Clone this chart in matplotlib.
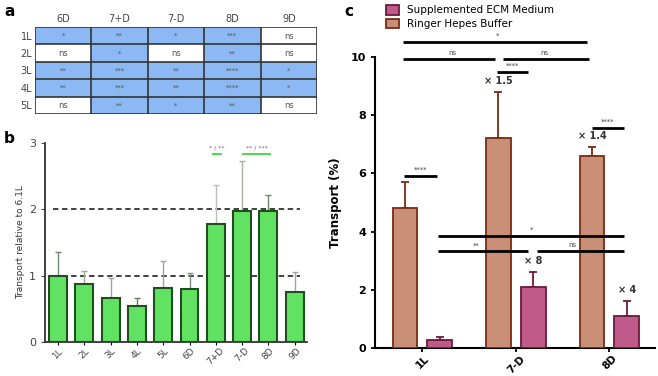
import matplotlib.pyplot as plt
import numpy as np
from matplotlib.colors import ListedColormap

# ---- data ----
# panel a: significance table
table_cols = ['6D', '7+D', '7-D', '8D', '9D']
table_rows = ['1L', '2L', '3L', '4L', '5L']
table_sig = [['*', '**', '*', '***', 'ns'],
             ['ns', '*', 'ns', '**', 'ns'],
             ['**', '***', '**', '****', '*'],
             ['**', '***', '**', '****', '*'],
             ['ns', '**', '*', '**', 'ns']]

# panel b: transport relative to 6.1L
b_labels = ['1L', '2L', '3L', '4L', '5L', '6D', '7+D', '7-D', '8D', '9D']
b_means = [1.00, 0.88, 0.66, 0.55, 0.81, 0.80, 1.78, 1.98, 1.98, 0.76]
b_upper = [1.36, 1.07, 0.97, 0.66, 1.22, 1.04, 2.36, 2.73, 2.22, 1.06]
b_err_colors = ['#6d8a6d', '#9aa89a', '#9aa89a', '#5f805f', '#9aa89a',
                '#7d8f7d', '#b5c2b5', '#a6b3a6', '#6d8a6d', '#9aa89a']

# panel c: transport (%)
c_groups = ['1L', '7-D', '8D']
ringer_mean = [4.8, 7.2, 6.6]
ringer_upper = [5.7, 8.8, 6.9]
ecm_mean = [0.27, 2.1, 1.1]
ecm_upper = [0.37, 2.6, 1.6]
ringer_fold = ['', '× 1.5', '× 1.4']
ecm_fold = ['', '× 8', '× 4']

fig = plt.figure(figsize=(6.58, 3.76), dpi=100)

# ---------------- panel a ----------------
ax_a = fig.add_axes([35/658, 1-114/376, 282/658, 87/376])
sig = np.array([[0 if s == 'ns' else 1 for s in row] for row in table_sig])
ax_a.imshow(sig, cmap=ListedColormap(['white', '#8cb8f4']), aspect='auto',
            extent=(0, 5, 5, 0), vmin=0, vmax=1)
for k in range(6):
    ax_a.axhline(k, color='#333333', lw=1.2)
    ax_a.axvline(k, color='#333333', lw=1.2)
for r, row in enumerate(table_sig):
    for c, s in enumerate(row):
        ax_a.text(c + 0.5, r + 0.52, s, ha='center', va='center',
                  fontsize=6 if s == 'ns' else 5, color='#555555')
ax_a.set_xlim(0, 5)
ax_a.set_ylim(5, 0)
ax_a.set_xticks(np.arange(5) + 0.5)
ax_a.set_xticklabels(table_cols, fontsize=7, color='#444444')
ax_a.xaxis.tick_top()
ax_a.set_yticks(np.arange(5) + 0.5)
ax_a.set_yticklabels(table_rows, fontsize=7, color='#444444')
ax_a.tick_params(length=0, pad=2)
for sp in ax_a.spines.values():
    sp.set_visible(False)

# ---------------- panel b ----------------
ax_b = fig.add_axes([45/658, 1-342/376, 262/658, 199/376])
xb = np.arange(len(b_labels))
ax_b.bar(xb, b_means, width=0.68, color='#62e262', edgecolor='#1f4f1f',
         linewidth=1.5, zorder=3)
for i in range(len(xb)):
    ax_b.errorbar(xb[i], b_means[i], yerr=[[0], [b_upper[i] - b_means[i]]],
                  color=b_err_colors[i], capsize=2, lw=1, capthick=1, zorder=2)
for lvl in [1, 2]:
    ax_b.hlines(lvl, -0.2, 9.2, colors='#333333', linestyles=(0, (3, 2)), lw=1.3, zorder=1)
for x0, x1, txt in [(5.86, 6.24, '* / **'), (7.0, 8.1, '** / ***')]:
    ax_b.hlines(2.83, x0, x1, colors='#55d855', lw=1.5)
    ax_b.text((x0 + x1) / 2, 2.88, txt, ha='center', va='bottom', fontsize=4.5, color='#666666')
ax_b.set_xlim(-0.5, 9.47)
ax_b.set_ylim(0, 3)
ax_b.set_yticks([0, 1, 2, 3])
ax_b.set_xticks(xb)
ax_b.set_xticklabels(b_labels, rotation=45, fontsize=6.5, color='#444444')
ax_b.tick_params(axis='y', labelsize=8, colors='#444444', length=3)
ax_b.tick_params(axis='x', length=2, pad=1)
ax_b.set_ylabel('Transport relative to 6.1L', fontsize=6.5, color='#333333', labelpad=3)
for sp in ['top', 'right']:
    ax_b.spines[sp].set_visible(False)
for sp in ['left', 'bottom']:
    ax_b.spines[sp].set_linewidth(1.3)
    ax_b.spines[sp].set_color('#333333')

# ---------------- panel c ----------------
ax_c = fig.add_axes([375/658, 1-348/376, 280/658, 291/376])
xc = np.arange(len(c_groups))
off = 0.187
w = 0.267
ax_c.bar(xc - off, ringer_mean, width=w, color='#c98e76', edgecolor='#7a2c14',
         linewidth=1.3, label='Ringer Hepes Buffer', zorder=3)
ax_c.bar(xc + off, ecm_mean, width=w, color='#bf5a89', edgecolor='#6b1a3c',
         linewidth=1.3, label='Supplemented ECM Medium', zorder=3)
ax_c.errorbar(xc - off, ringer_mean,
              yerr=[np.zeros(3), np.array(ringer_upper) - np.array(ringer_mean)],
              fmt='none', ecolor='#7a2c14', capsize=3, lw=1.3, capthick=1.3, zorder=2)
ax_c.errorbar(xc + off, ecm_mean,
              yerr=[np.zeros(3), np.array(ecm_upper) - np.array(ecm_mean)],
              fmt='none', ecolor='#6b1a3c', capsize=3, lw=1.3, capthick=1.3, zorder=2)
for i in range(3):
    if ringer_fold[i]:
        ax_c.text(xc[i] - off, ringer_upper[i] + 0.22, ringer_fold[i], ha='center',
                  va='bottom', fontsize=7, fontweight='bold', color='#333333')
    if ecm_fold[i]:
        ax_c.text(xc[i] + off, ecm_upper[i] + 0.22, ecm_fold[i], ha='center',
                  va='bottom', fontsize=7, fontweight='bold', color='#333333')

# significance brackets: (x0, x1, y, label, label x)
brackets = [(-0.21, 1.76, 10.53, '*', 0.80),
            (-0.21, 0.775, 9.94, 'ns', 0.32),
            (0.86, 1.78, 9.94, 'ns', 1.30),
            (0.80, 1.13, 9.50, '****', 0.96),
            (-0.20, 0.155, 5.92, '****', -0.02),
            (1.81, 2.155, 7.57, '****', 1.98),
            (0.166, 2.155, 3.85, '*', 1.17),
            (0.166, 1.128, 3.32, '**', 0.58),
            (1.225, 2.155, 3.32, 'ns', 1.60)]
for x0, x1, y, txt, tx in brackets:
    ax_c.hlines(y, x0, x1, colors='black', lw=2, clip_on=False, zorder=4)
    ax_c.text(tx, y + 0.1, txt, ha='center', va='bottom', fontsize=5,
              color='#444444', clip_on=False)

ax_c.set_xlim(-0.508, 2.487)
ax_c.set_ylim(0, 10)
ax_c.set_yticks([0, 2, 4, 6, 8, 10])
ax_c.set_xticks(xc)
ax_c.set_xticklabels(c_groups, rotation=45, fontsize=7.5, fontweight='bold')
ax_c.tick_params(axis='y', labelsize=8, length=3, width=1.3)
ax_c.tick_params(axis='x', length=3, width=1.3, pad=1)
for lab in ax_c.get_yticklabels():
    lab.set_fontweight('bold')
ax_c.set_ylabel('Transport (%)', fontsize=8.5, fontweight='bold', labelpad=6)
for sp in ['top', 'right']:
    ax_c.spines[sp].set_visible(False)
for sp in ['left', 'bottom']:
    ax_c.spines[sp].set_linewidth(1.5)

h, l = ax_c.get_legend_handles_labels()
fig.legend(h[::-1], l[::-1], loc='upper left', bbox_to_anchor=(381/658, 1.0),
           frameon=False, fontsize=7.5, handlelength=1.2, handleheight=1.0,
           handletextpad=0.8, labelspacing=0.35, borderaxespad=0.1)

# panel letters
fig.text(4/658, 1-4/376, 'a', fontsize=11, fontweight='bold', va='top')
fig.text(4/658, 1-131/376, 'b', fontsize=11, fontweight='bold', va='top')
fig.text(344/658, 1-4/376, 'c', fontsize=11, fontweight='bold', va='top')

fig.savefig('out.png', dpi=100)
